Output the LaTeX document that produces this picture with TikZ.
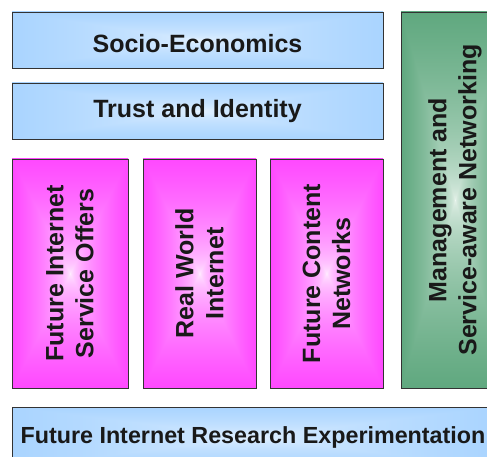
\documentclass[tikz,border=0pt]{standalone}
\usepackage{fontspec}
\setmainfont{Liberation Sans}
\pgfdeclarefunctionalshading{blueshade}{\pgfpoint{-50bp}{-50bp}}{\pgfpoint{50bp}{50bp}}{}{
  abs exch abs 2 copy lt {exch} if pop 50 div sqrt
  dup -0.36 mul 0.92 add exch dup -0.18 mul 0.96 add exch pop 1
}
\pgfdeclarefunctionalshading{magshade}{\pgfpoint{-50bp}{-50bp}}{\pgfpoint{50bp}{50bp}}{}{
  abs exch abs 2 copy lt {exch} if pop 50 div sqrt
  -0.97 mul 0.97 add 1 exch 1
}
\pgfdeclarefunctionalshading{greenshade}{\pgfpoint{-50bp}{-50bp}}{\pgfpoint{50bp}{50bp}}{}{
  abs exch abs 2 copy lt {exch} if pop 50 div sqrt
  dup -0.80 mul 0.94 add exch dup -0.44 mul 0.97 add exch -0.64 mul 0.95 add
}
\tikzset{
  box/.style={draw=black!80, line width=0.8pt, inner sep=0pt, align=center,
    font=\bfseries\fontsize{25}{30}\selectfont, text=black!90},
  bluebox/.style={box, shading=blueshade},
  magbox/.style={box, shading=magshade, rotate=90},
  greenbox/.style={box, shading=greenshade, rotate=90},
}
\begin{document}
\begin{tikzpicture}[x=1pt,y=-1pt]
\useasboundingbox (0,0) rectangle (487,457);
\clip (0,0) rectangle (487,457);
\node[bluebox, minimum width=371pt, minimum height=56pt] (socio) at (197.5,40) {\raisebox{-3pt}[\height][0pt]{Socio-Economics}};
\node[bluebox, minimum width=371pt, minimum height=56pt] (trust) at (197.5,111) {Trust and Identity};
\node[magbox, minimum width=229pt, minimum height=116pt] (fiso) at (70,273.5) {Future Internet\\Service Offers};
\node[magbox, minimum width=229pt, minimum height=113pt] (rwi) at (199.5,273.5) {Real World\\Internet};
\node[magbox, minimum width=229pt, minimum height=113pt] (fcn) at (326.5,273.5) {Future Content\\Networks};
\node[greenbox, minimum width=376pt, minimum height=108pt] (mgmt) at (455,200) {Management and\\Service-aware Networking};
\node[bluebox, minimum width=482pt, minimum height=60pt, font=\bfseries\fontsize{23.3}{28}\selectfont] (fire) at (253,437) {Future Internet Research Experimentation};
\end{tikzpicture}
\end{document}
